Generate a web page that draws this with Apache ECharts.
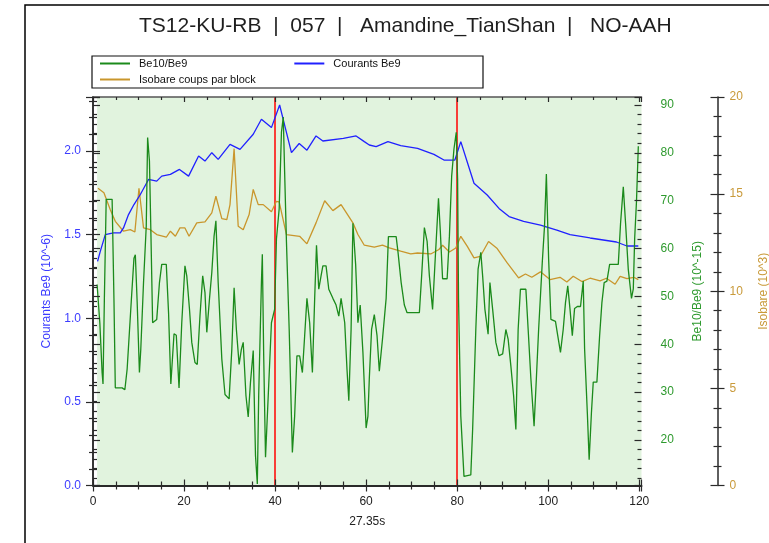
<!DOCTYPE html>
<html><head><meta charset="utf-8">
<script src="https://cdn.jsdelivr.net/npm/echarts@6/dist/echarts.min.js"></script>
<style>html,body{margin:0;padding:0;background:#fff}#c{width:769px;height:543px}</style>
</head><body><div id="c"></div>
<script>
const titleText = 'TS12-KU-RB  |  057  |   Amandine_TianShan  |   NO-AAH';
const xName = '27.35s';
const seriesNames = ['Be10/Be9', 'Courants Be9', 'Isobare coups par block'];
const axisNames = ['Courants Be9 (10^-6)', 'Be10/Be9 (10^-15)', 'Isobare (10^3)'];
const redLinesX = [40, 80];

// Be10/Be9 (10^-15)
const ratioX = [0.9,1.5,2.0,2.2,2.5,2.9,4.2,4.6,4.9,6.4,7.0,7.5,8.4,9.0,9.3,9.7,10.2,10.5,11.1,11.7,12.0,12.4,12.7,13.1,14.0,14.6,15.1,16.1,16.6,17.1,17.8,18.3,18.9,19.5,20.2,20.6,21.2,21.7,22.4,22.9,23.5,24.1,24.6,25.0,25.6,26.1,26.6,27.0,27.5,28.3,29.0,29.9,30.5,31.0,31.5,32.1,32.6,33.0,33.6,34.1,34.6,35.2,35.7,36.1,36.4,37.0,37.2,37.5,37.9,38.5,39.2,39.9,40.3,40.9,41.4,41.8,42.1,42.5,43.1,43.4,43.8,44.3,44.8,45.4,46.0,46.5,47.0,47.6,48.2,48.7,49.1,49.6,50.1,50.5,51.2,51.8,52.7,53.4,54.0,54.5,55.3,55.8,56.2,56.7,57.1,57.7,58.2,58.7,59.3,60.0,60.4,60.7,61.2,61.8,62.4,62.9,63.6,64.4,64.9,66.6,67.0,67.7,68.4,69.0,71.7,72.2,72.8,73.4,73.9,74.6,75.1,75.9,76.3,76.8,77.8,78.3,78.8,79.3,79.8,80.1,80.3,80.8,81.5,83.0,83.4,84.1,84.6,85.2,85.6,86.1,86.8,87.2,87.8,88.5,89.2,90.0,90.7,91.2,91.8,92.4,92.9,93.4,93.9,95.1,95.6,96.2,96.9,97.4,97.9,98.7,99.2,99.6,100.1,100.6,101.6,102.1,102.7,103.3,103.8,104.3,104.8,105.3,105.8,106.4,107.1,107.7,108.0,108.6,109.0,109.5,109.9,110.7,111.3,111.8,112.3,112.9,113.5,115.4,115.9,116.5,117.0,117.6,118.3,118.7,119.0,119.4,119.8];
const ratioY = [52.5,44.5,34.1,31.7,49.6,70.3,70.3,49.6,30.9,30.9,30.5,34.8,48.9,58.0,58.7,48.9,34.1,39.0,52.9,64.7,83.2,78.3,64.3,44.5,45.2,52.9,56.7,56.7,46.6,31.7,42.2,41.9,30.9,44.5,56.4,54.3,47.3,40.4,36.2,35.8,45.9,54.3,50.8,42.5,49.6,55.0,62.6,65.8,52.9,36.9,29.5,28.6,39.0,51.8,43.1,35.8,39.0,40.4,29.3,24.8,32.1,38.7,16.7,10.8,29.3,52.9,58.8,37.6,16.4,29.3,44.5,47.3,62.0,68.3,84.3,87.5,76.0,61.4,43.1,32.1,17.4,25.0,37.6,37.6,34.1,41.8,49.6,44.5,34.1,49.6,60.7,51.5,54.3,56.4,56.4,51.5,49.6,48.2,45.9,49.6,44.5,34.8,28.2,43.1,65.3,56.7,44.5,48.2,38.3,22.5,25.0,32.8,43.1,46.2,41.8,34.4,41.1,49.6,62.5,62.5,59.3,52.9,48.2,46.6,46.6,54.3,64.4,61.5,54.3,47.3,56.4,70.5,63.7,53.7,53.7,62.6,75.2,80.8,84.3,74.5,49.6,25.0,12.4,12.7,22.2,43.1,55.7,59.2,54.3,47.3,42.1,52.9,47.3,40.4,37.6,38.0,43.1,41.1,35.5,29.3,22.2,43.1,51.5,51.5,43.1,32.8,22.9,32.8,43.1,57.1,64.8,75.6,57.8,45.2,44.8,41.8,38.3,43.1,48.7,52.2,47.3,41.8,47.5,47.9,47.9,53.2,39.0,25.7,15.9,25.7,32.1,32.1,41.8,48.7,52.9,53.2,56.7,56.7,65.3,72.9,65.3,55.6,49.6,51.6,62.1,69.9,81.4];

// Courants Be9 (10^-6)
const courantX = [1.0,1.6,2.7,4.5,6.0,6.7,7.8,9.0,10.4,12.2,14.0,15.1,17.0,19.0,21.0,23.2,24.6,26.1,27.5,30.1,32.3,35.2,37.0,39.2,41.0,42.1,43.6,45.3,47.0,49.0,50.5,55.0,57.8,59.6,60.7,62.2,64.8,67.6,71.3,74.9,77.1,79.5,80.8,82.2,83.7,86.6,89.2,91.4,94.6,98.3,101.9,104.8,109.2,115.0,117.3,119.8];
const courantY = [1.34,1.40,1.50,1.51,1.51,1.54,1.62,1.68,1.74,1.83,1.82,1.85,1.86,1.89,1.85,1.97,1.94,1.99,1.95,2.04,2.01,2.10,2.19,2.14,2.275,2.155,1.99,2.045,2.005,2.09,2.06,2.075,2.09,2.056,2.036,2.026,2.056,2.032,2.016,1.98,1.946,1.946,2.056,1.936,1.807,1.737,1.657,1.608,1.58,1.557,1.527,1.50,1.48,1.456,1.432,1.432];

// Isobare (10^3)
const isoX = [1.1,2.4,3.8,4.9,6.7,8.2,9.2,10.1,11.1,12.6,14.0,16.1,17.0,18.1,19.1,20.2,21.1,22.8,24.6,26.1,27.0,28.3,29.4,30.1,31.0,31.9,33.0,34.3,35.2,36.3,37.4,39.2,40.3,40.9,42.5,45.4,47.0,49.0,50.9,52.7,54.5,57.1,58.2,59.6,61.8,63.6,65.1,67.6,69.8,71.3,74.2,76.0,76.8,78.3,79.7,80.8,82.2,83.7,85.1,86.9,88.8,91.0,93.5,95.0,96.4,98.3,100.4,102.6,104.1,105.5,107.4,109.2,111.4,112.8,114.7,115.8,117.3,118.8,119.8];
const isoY = [15.3,15.07,14.2,13.6,13.09,13.17,13.05,15.3,13.26,13.17,12.92,12.78,13.09,12.83,13.26,13.26,12.83,13.52,13.57,14.03,14.89,13.74,13.69,14.46,17.34,13.35,13.17,13.95,15.24,14.46,14.46,14.09,14.63,14.6,12.92,12.83,12.44,13.52,14.66,14.15,14.46,13.52,12.92,12.37,12.27,12.37,12.23,12.06,11.92,11.97,11.92,12.15,12.37,12.02,12.23,12.83,12.32,11.72,11.8,12.56,12.2,11.46,10.69,10.89,10.72,11.0,10.6,10.72,10.48,10.77,10.5,10.67,10.53,10.67,10.36,10.77,10.65,10.72,10.6];

const xMin = 0, xMax = 120.5, xStep = 20;
const courantMin = 0, courantMax = 2.323;
const ratioMin = 10.5, ratioMax = 91.67;
const isoMin = 0, isoMax = 20, isoStep = 5;

const pairs = (xs, ys) => xs.map((x, i) => [x, ys[i]]);

const C_BLUE = '#2020ff', C_GREEN = '#1b8a1b', C_ORANGE = '#c9962c';
const LBL_BLUE = '#3c3cff', LBL_GREEN = '#2e9a2e', LBL_ORANGE = '#c99a3a';
const AX = '#2a2a2a';
const font = 'Liberation Sans, Arial, sans-serif';

function yAx(extra) {
  return Object.assign({
    type: 'value', z: 8, splitLine: {show: false},
    axisLine: {show: true, lineStyle: {color: AX, width: 1.5}},
    axisTick: {show: true, length: 7, lineStyle: {color: AX, width: 1.2}},
    minorTick: {show: true, splitNumber: 5, length: 4, lineStyle: {color: AX, width: 1.2}},
    minorSplitLine: {show: false}
  }, extra);
}
function innerCopy(base, extra) {
  return Object.assign({}, base, {
    name: '', axisLabel: {show: false},
    axisLine: {show: false},
    axisTick: Object.assign({}, base.axisTick, {inside: true}),
  }, extra || {});
}

const yLeft = yAx({
  position: 'left', min: courantMin, max: courantMax, interval: 0.5,
  name: axisNames[0], nameLocation: 'middle', nameGap: 40, nameRotate: 90,
  nameTextStyle: {color: LBL_BLUE, fontSize: 12, fontFamily: font},
  axisLabel: {color: LBL_BLUE, fontSize: 12, fontFamily: font, margin: 12, showMaxLabel: false,
    formatter: v => v.toFixed(1)}
});
const yRatio = yAx({
  position: 'right', min: ratioMin, max: ratioMax, splitNumber: 8,
  name: axisNames[1], nameLocation: 'middle', nameGap: 50, nameRotate: 90,
  nameTextStyle: {color: LBL_GREEN, fontSize: 12, fontFamily: font},
  axisLabel: {color: LBL_GREEN, fontSize: 12, fontFamily: font, margin: 19, showMinLabel: false, showMaxLabel: false}
});
const yIso = yAx({
  position: 'right', offset: 76, min: isoMin, max: isoMax, interval: isoStep,
  name: axisNames[2], nameLocation: 'middle', nameGap: 40, nameRotate: 90,
  nameTextStyle: {color: LBL_ORANGE, fontSize: 12, fontFamily: font},
  axisLabel: {color: LBL_ORANGE, fontSize: 12, fontFamily: font, margin: 12}
});

const xBase = {
  type: 'value', z: 8, min: xMin, max: xMax, interval: xStep, splitLine: {show: false},
  axisLine: {show: true, onZero: false, lineStyle: {color: AX, width: 2}},
  axisTick: {show: true, length: 6, lineStyle: {color: AX, width: 1.2}},
  minorTick: {show: true, splitNumber: 4, length: 4, lineStyle: {color: AX, width: 1.2}},
  minorSplitLine: {show: false}
};
const xBottom = Object.assign({}, xBase, {
  position: 'bottom', name: xName, nameLocation: 'middle', nameGap: 30,
  nameTextStyle: {color: '#222', fontSize: 12, fontFamily: font},
  axisLabel: {color: '#222', fontSize: 12, fontFamily: font, margin: 10, showMaxLabel: false}
});
const xBottomIn = innerCopy(xBottom, {position: 'bottom'});
const xTop = Object.assign({}, xBase, {
  position: 'top', axisLabel: {show: false},
  axisLine: {show: true, onZero: false, lineStyle: {color: '#555', width: 1.5}},
  axisTick: {show: true, inside: true, length: 5, lineStyle: {color: AX, width: 1.2}},
  minorTick: {show: true, splitNumber: 4, length: 3, lineStyle: {color: AX, width: 1.2}}
});

const allX = ratioX.concat(courantX, isoX);
const bgStart = Math.min.apply(null, allX);

const legendText = {fontSize: 11, color: '#111', fontFamily: font, padding: [0, 0, 0, 4]};

const option = {
  animation: false,
  backgroundColor: '#ffffff',
  textStyle: {fontFamily: font},
  title: {
    text: titleText, left: 139, top: 16, padding: 0,
    textStyle: {fontSize: 21, fontWeight: 'normal', color: '#1e1e1e', fontFamily: font}
  },
  graphic: [
    {type: 'rect', shape: {x: 25, y: 5, width: 760, height: 560}, style: {fill: 'none', stroke: '#000', lineWidth: 1.5}, silent: true},
    {type: 'rect', shape: {x: 92, y: 56, width: 391, height: 32}, style: {fill: 'none', stroke: '#111', lineWidth: 1.2}, silent: true}
  ],
  legend: [
    {data: [seriesNames[0], seriesNames[1]], left: 100, top: 58, itemWidth: 30, itemHeight: 2, icon: 'rect', itemGap: 107, padding: 0,
     textStyle: legendText},
    {data: [seriesNames[2]], left: 100, top: 74, itemWidth: 30, itemHeight: 2, icon: 'rect', padding: 0,
     textStyle: legendText}
  ],
  grid: {left: 93, top: 97, width: 548.5, height: 388.5, containLabel: false, outerBoundsMode: 'none'},
  xAxis: [xBottom, xBottomIn, xTop],
  yAxis: [yLeft, innerCopy(yLeft), yRatio, innerCopy(yRatio), yIso, innerCopy(yIso)],
  series: [
    {name: seriesNames[0], type: 'line', xAxisIndex: 0, yAxisIndex: 2, data: pairs(ratioX, ratioY),
     symbol: 'none', z: 5, lineStyle: {color: C_GREEN, width: 1.3}, itemStyle: {color: C_GREEN}},
    {name: seriesNames[1], type: 'line', xAxisIndex: 0, yAxisIndex: 0, data: pairs(courantX, courantY),
     symbol: 'none', z: 4, lineStyle: {color: C_BLUE, width: 1.3}, itemStyle: {color: C_BLUE}},
    {name: seriesNames[2], type: 'line', xAxisIndex: 0, yAxisIndex: 4, data: pairs(isoX, isoY),
     symbol: 'none', z: 3, lineStyle: {color: C_ORANGE, width: 1.3}, itemStyle: {color: C_ORANGE},
     markArea: {silent: true, z: 1, itemStyle: {color: '#e1f3de'}, data: [[{xAxis: bgStart}, {xAxis: xMax}]]},
     markLine: {silent: true, z: 2, symbol: 'none', label: {show: false},
       lineStyle: {color: '#ff0000', width: 1.5, type: 'solid'},
       data: redLinesX.map(x => ({xAxis: x}))}
    }
  ]
};
const chart = echarts.init(document.getElementById('c'), null, {renderer: 'canvas'});
chart.setOption(option);
</script></body></html>
